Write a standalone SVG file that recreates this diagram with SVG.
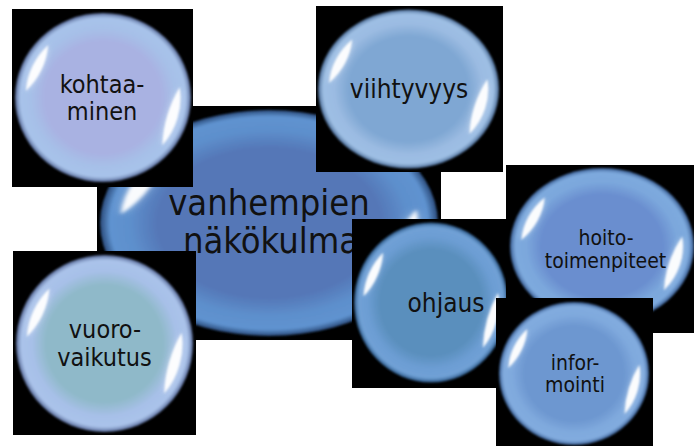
<svg xmlns="http://www.w3.org/2000/svg" xmlns:xlink="http://www.w3.org/1999/xlink" width="694" height="446" viewBox="0 0 694 446">
<style>
  .bg { fill: #000; }
  .lbl { font-family: "DejaVu Sans Condensed", "DejaVu Sans", sans-serif; fill: #111; text-anchor: middle; }
  .hl { fill: #fff; stroke: none; }
</style>
<defs>
  <filter id="soft" x="-50%" y="-50%" width="200%" height="200%"><feGaussianBlur stdDeviation="1.3"/></filter>
  <filter id="glow" x="-50%" y="-50%" width="200%" height="200%"><feGaussianBlur stdDeviation="3.5"/></filter>
  <filter id="edge" x="-5%" y="-5%" width="110%" height="110%"><feGaussianBlur stdDeviation="0.8"/></filter>
  <radialGradient id="g-center"><stop offset="0" stop-color="#5577b7"/><stop offset="0.66" stop-color="#5577b7"/><stop offset="0.82" stop-color="#5d8fcc"/><stop offset="0.94" stop-color="#5f93d0"/><stop offset="1" stop-color="#2a4a7a"/></radialGradient>
  <radialGradient id="g-koh"><stop offset="0" stop-color="#a9b2e2"/><stop offset="0.66" stop-color="#a9b2e2"/><stop offset="0.82" stop-color="#a6c0e8"/><stop offset="0.94" stop-color="#a8c3ea"/><stop offset="1" stop-color="#5a6d9c"/></radialGradient>
  <radialGradient id="g-vii"><stop offset="0" stop-color="#7fa7d3"/><stop offset="0.66" stop-color="#7fa7d3"/><stop offset="0.82" stop-color="#9bbbe2"/><stop offset="0.94" stop-color="#9ebfe4"/><stop offset="1" stop-color="#4d6f9a"/></radialGradient>
  <radialGradient id="g-vuo"><stop offset="0" stop-color="#8fb9c9"/><stop offset="0.66" stop-color="#8fb9c9"/><stop offset="0.82" stop-color="#a7c0e8"/><stop offset="0.94" stop-color="#aac3ea"/><stop offset="1" stop-color="#5a6d9c"/></radialGradient>
  <radialGradient id="g-ohj"><stop offset="0" stop-color="#5a8fbd"/><stop offset="0.66" stop-color="#5a8fbd"/><stop offset="0.82" stop-color="#6c9dd3"/><stop offset="0.94" stop-color="#70a1d6"/><stop offset="1" stop-color="#2d5a8a"/></radialGradient>
  <radialGradient id="g-hoi"><stop offset="0" stop-color="#6a8ecf"/><stop offset="0.66" stop-color="#6a8ecf"/><stop offset="0.82" stop-color="#7ba7dc"/><stop offset="0.94" stop-color="#7eaade"/><stop offset="1" stop-color="#3a5f95"/></radialGradient>
  <radialGradient id="g-inf"><stop offset="0" stop-color="#6d97d0"/><stop offset="0.66" stop-color="#6d97d0"/><stop offset="0.82" stop-color="#7fa9dd"/><stop offset="0.94" stop-color="#82acdf"/><stop offset="1" stop-color="#3a5f95"/></radialGradient>
  <g id="gloss">
    <path class="hl" d="M -87.7 -7.7 A 88 88 0 0 1 -62.2 -62.2 Q -65.3 -30.4 -87.7 -7.7 Z" opacity="0.45" filter="url(#glow)"/>
    <path class="hl" d="M -87.7 -7.7 A 88 88 0 0 1 -62.2 -62.2 Q -65.3 -30.4 -87.7 -7.7 Z" opacity="0.95" filter="url(#soft)"/>
    <path class="hl" d="M 87.1 -12.2 A 88 88 0 0 1 67.4 56.6 Q 69.2 19.8 87.1 -12.2 Z" opacity="0.45" filter="url(#glow)"/>
    <path class="hl" d="M 87.1 -12.2 A 88 88 0 0 1 67.4 56.6 Q 69.2 19.8 87.1 -12.2 Z" opacity="0.95" filter="url(#soft)"/>
  </g>
</defs>

<g id="node-center">
  <rect class="bg" x="97" y="106" width="344" height="234"/>
  <ellipse cx="269" cy="223" rx="169" ry="113" fill="url(#g-center)" filter="url(#edge)"/>
  <use xlink:href="#gloss" href="#gloss" transform="translate(269,223) scale(1.69,1.13)"/>
  <text class="lbl" x="269" y="215" font-size="36">vanhempien</text>
  <text class="lbl" x="271" y="253" font-size="36">näkökulma</text>
</g>

<g id="node-kohtaaminen">
  <rect class="bg" x="12" y="9" width="181" height="178"/>
  <ellipse cx="103" cy="97.5" rx="88" ry="84.5" fill="url(#g-koh)" filter="url(#edge)"/>
  <use xlink:href="#gloss" href="#gloss" transform="translate(103,97.5) scale(0.88,0.845)"/>
  <text class="lbl" x="102" y="93" font-size="25">kohtaa-</text>
  <text class="lbl" x="102" y="120" font-size="25">minen</text>
</g>

<g id="node-viihtyvyys">
  <rect class="bg" x="316" y="6" width="187" height="166"/>
  <ellipse cx="408.5" cy="89" rx="90.5" ry="79.5" fill="url(#g-vii)" filter="url(#edge)"/>
  <use xlink:href="#gloss" href="#gloss" transform="translate(408.5,89) scale(0.905,0.795)"/>
  <text class="lbl" x="409" y="98" font-size="26">viihtyvyys</text>
</g>

<g id="node-vuorovaikutus">
  <rect class="bg" x="13" y="251" width="183" height="184"/>
  <ellipse cx="104.5" cy="343.5" rx="88.5" ry="88.5" fill="url(#g-vuo)" filter="url(#edge)"/>
  <use xlink:href="#gloss" href="#gloss" transform="translate(104.5,343.5) scale(0.885,0.885)"/>
  <text class="lbl" x="105" y="338" font-size="25">vuoro-</text>
  <text class="lbl" x="104.5" y="366" font-size="25">vaikutus</text>
</g>

<g id="node-ohjaus">
  <rect class="bg" x="352" y="219" width="154" height="169"/>
  <ellipse cx="431" cy="302.5" rx="77" ry="80" fill="url(#g-ohj)" filter="url(#edge)"/>
  <use xlink:href="#gloss" href="#gloss" transform="translate(431,302.5) scale(0.77,0.8)"/>
  <text class="lbl" x="446" y="312" font-size="26">ohjaus</text>
</g>

<g id="node-hoitotoimenpiteet">
  <rect class="bg" x="506" y="165" width="188" height="168"/>
  <ellipse cx="602" cy="246" rx="92" ry="78" fill="url(#g-hoi)" filter="url(#edge)"/>
  <use xlink:href="#gloss" href="#gloss" transform="translate(602,246) scale(0.92,0.78)"/>
  <text class="lbl" x="606" y="245" font-size="21">hoito-</text>
  <text class="lbl" x="605.5" y="268" font-size="21">toimenpiteet</text>
</g>

<g id="node-informointi">
  <rect class="bg" x="496" y="298" width="157" height="148"/>
  <ellipse cx="574" cy="373.5" rx="75" ry="71.5" fill="url(#g-inf)" filter="url(#edge)"/>
  <use xlink:href="#gloss" href="#gloss" transform="translate(574,373.5) scale(0.75,0.715)"/>
  <text class="lbl" x="575" y="370" font-size="21">infor-</text>
  <text class="lbl" x="575" y="392" font-size="21">mointi</text>
</g>

<g id="connectors"/>
</svg>
